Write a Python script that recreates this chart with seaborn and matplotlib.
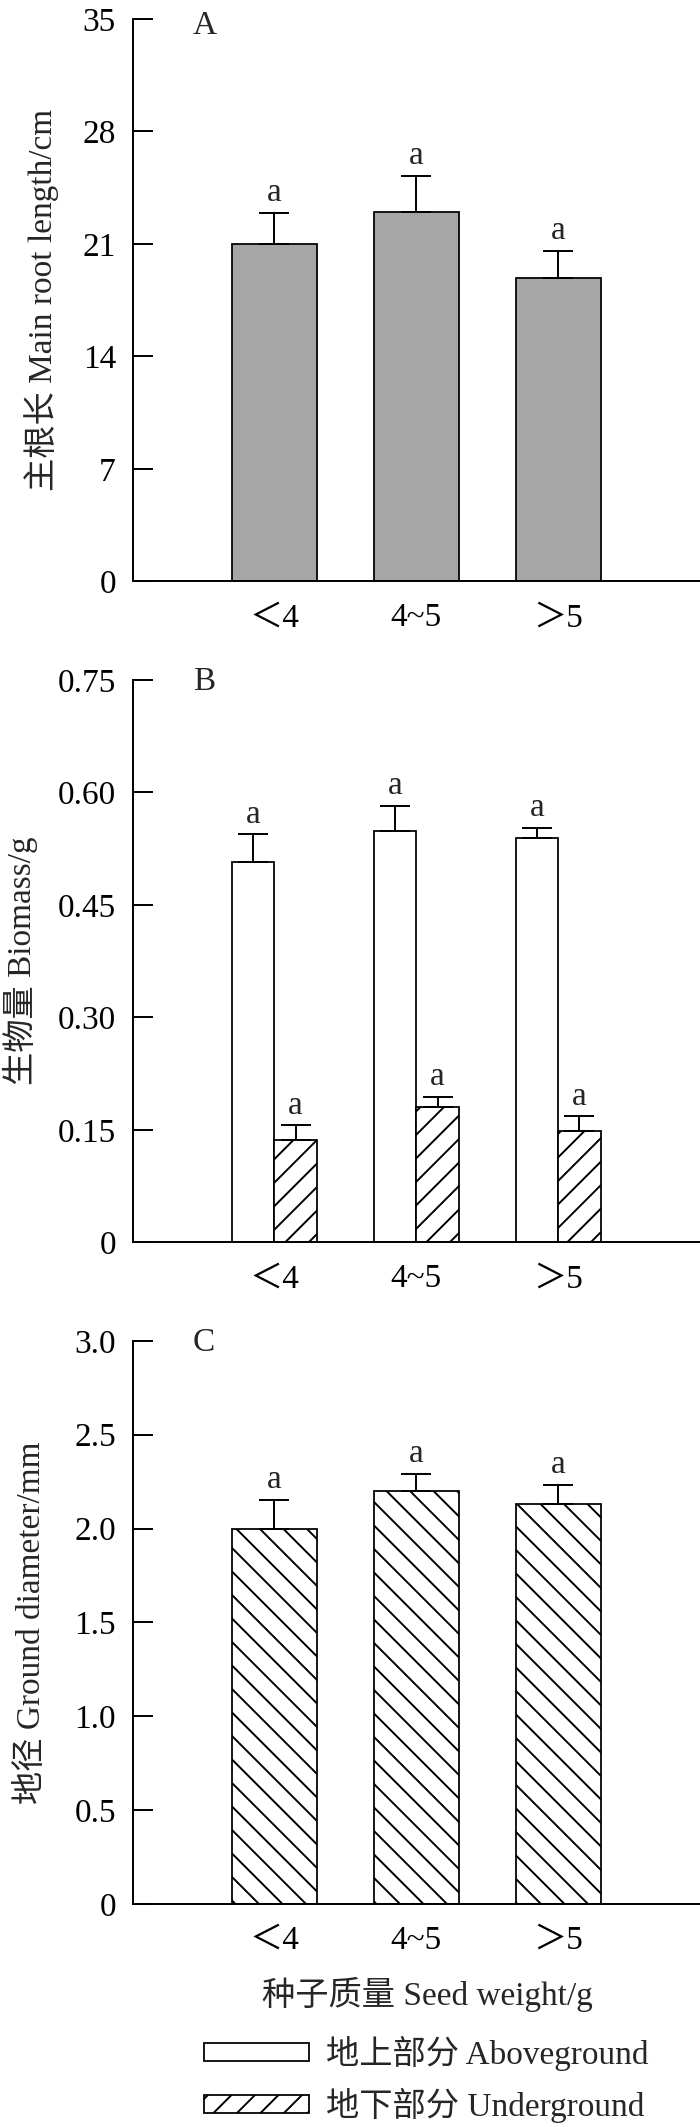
import numpy as np
import pandas as pd
import seaborn as sns
import matplotlib.pyplot as plt
from matplotlib.patches import Patch

# seed weight classes (x categories)
weights = ['＜4', '4~5', '＞5']

# A: main root length (cm)
root_len = [21.0, 23.0, 18.9]
root_len_err = [1.95, 2.25, 1.65]

# B: biomass (g)
above_mass = [0.507, 0.549, 0.539]
above_mass_err = [0.037, 0.033, 0.014]
under_mass = [0.136, 0.181, 0.149]
under_mass_err = [0.020, 0.013, 0.019]

# C: ground diameter (mm)
ground_dia = [2.00, 2.20, 2.13]
ground_dia_err = [0.152, 0.090, 0.102]

parts = ['地上部分 Aboveground', '地下部分 Underground']
sig_letter = 'a'

yticks_a = [0, 7, 14, 21, 28, 35]
ylabels_a = ['0', '7', '14', '21', '28', '35']
yticks_b = [0, 0.15, 0.30, 0.45, 0.60, 0.75]
ylabels_b = ['0', '0.15', '0.30', '0.45', '0.60', '0.75']
yticks_c = [0, 0.5, 1.0, 1.5, 2.0, 2.5, 3.0]
ylabels_c = ['0', '0.5', '1.0', '1.5', '2.0', '2.5', '3.0']

sns.set_theme(style='white')
plt.rcParams['font.family'] = ['Liberation Serif', 'Noto Sans CJK SC']
plt.rcParams['hatch.linewidth'] = 1.0
plt.rcParams['hatch.color'] = 'black'

FS = 17
DPI = 141
fig = plt.figure(figsize=(700 / DPI, 2127 / DPI), dpi=DPI)

left, width = 0.1894, 0.8106
ax_a = fig.add_axes([left, 0.7267, width, 0.2644])
ax_b = fig.add_axes([left, 0.4159, width, 0.2644])
ax_c = fig.add_axes([left, 0.1049, width, 0.2647])

df_a = pd.DataFrame({'weight': weights, 'val': root_len})
df_b = pd.DataFrame({
    'weight': weights * 2,
    'part': [parts[0]] * 3 + [parts[1]] * 3,
    'val': above_mass + under_mass,
})
df_c = pd.DataFrame({'weight': weights, 'val': ground_dia})

bar_kw = dict(edgecolor='black', linewidth=0.9, width=0.6, errorbar=None, saturation=1)

sns.barplot(data=df_a, x='weight', y='val', color='#a6a6a6', ax=ax_a, **bar_kw)
sns.barplot(data=df_b, x='weight', y='val', hue='part', palette=['white', 'white'],
            legend=False, ax=ax_b, **bar_kw)
sns.barplot(data=df_c, x='weight', y='val', color='white', ax=ax_c, **bar_kw)

for bar in ax_b.containers[1]:
    bar.set_hatch('//')
for bar in ax_c.containers[0]:
    bar.set_hatch('\\\\')


def add_err(ax, bars, errs):
    xs = [b.get_x() + b.get_width() / 2 for b in bars]
    ys = [b.get_height() for b in bars]
    ax.errorbar(xs, ys, yerr=[np.zeros(len(errs)), errs], fmt='none', ecolor='black',
                elinewidth=1.0, capsize=7.6, capthick=1.0, zorder=1)
    for x, y, e in zip(xs, ys, errs):
        ax.annotate(sig_letter, (x, y + e), xytext=(0, 6), textcoords='offset points',
                    ha='center', va='baseline', fontsize=FS)


add_err(ax_a, list(ax_a.containers[0]), root_len_err)
bars_b = list(ax_b.containers)
add_err(ax_b, list(bars_b[0]), above_mass_err)
add_err(ax_b, list(bars_b[1]), under_mass_err)
add_err(ax_c, list(ax_c.containers[0]), ground_dia_err)

panels = [
    (ax_a, 'A', yticks_a, ylabels_a, '主根长 Main root length/cm', -0.161, 0.9875),
    (ax_b, 'B', yticks_b, ylabels_b, '生物量 Biomass/g', -0.197, 0.997),
    (ax_c, 'C', yticks_c, ylabels_c, '地径 Ground diameter/mm', -0.178, 0.997),
]
for ax, letter, ticks, labels, ylab, lx, ty in panels:
    ax.set_xlim(-1, 3)
    ax.set_ylim(ticks[0], ticks[-1])
    ax.set_yticks(ticks)
    ax.set_yticklabels(labels)
    ax.set_xlabel('')
    ax.set_ylabel(ylab, fontsize=FS, va='center')
    ax.yaxis.set_label_coords(lx, 0.5)
    ax.spines[['top', 'right']].set_visible(False)
    for s in ['left', 'bottom']:
        ax.spines[s].set_color('black')
        ax.spines[s].set_linewidth(1.0)
    ax.tick_params(axis='y', direction='in', length=10.2, width=1.0, pad=8.5,
                   labelsize=FS, colors='black', left=True)
    ax.tick_params(axis='x', length=0, pad=11, labelsize=FS, colors='black')
    ax.text(0.106, ty, letter, transform=ax.transAxes, ha='left', va='center', fontsize=FS)

fig.text(427.6 / 700, 1 - 1994 / 2127, '种子质量 Seed weight/g', ha='center', va='center',
         fontsize=FS)

handles = [
    Patch(facecolor='white', edgecolor='black', linewidth=0.9, label=parts[0]),
    Patch(facecolor='white', edgecolor='black', linewidth=0.9, hatch='//', label=parts[1]),
]
fig.legend(handles=handles, loc='upper left', bbox_to_anchor=(204 / 700, 1 - 2036 / 2127),
           frameon=False, borderpad=0, borderaxespad=0, handlelength=3.15, handleheight=0.47,
           handletextpad=0.5, labelspacing=0.5, fontsize=FS)

fig.savefig('out.png', dpi=DPI)
